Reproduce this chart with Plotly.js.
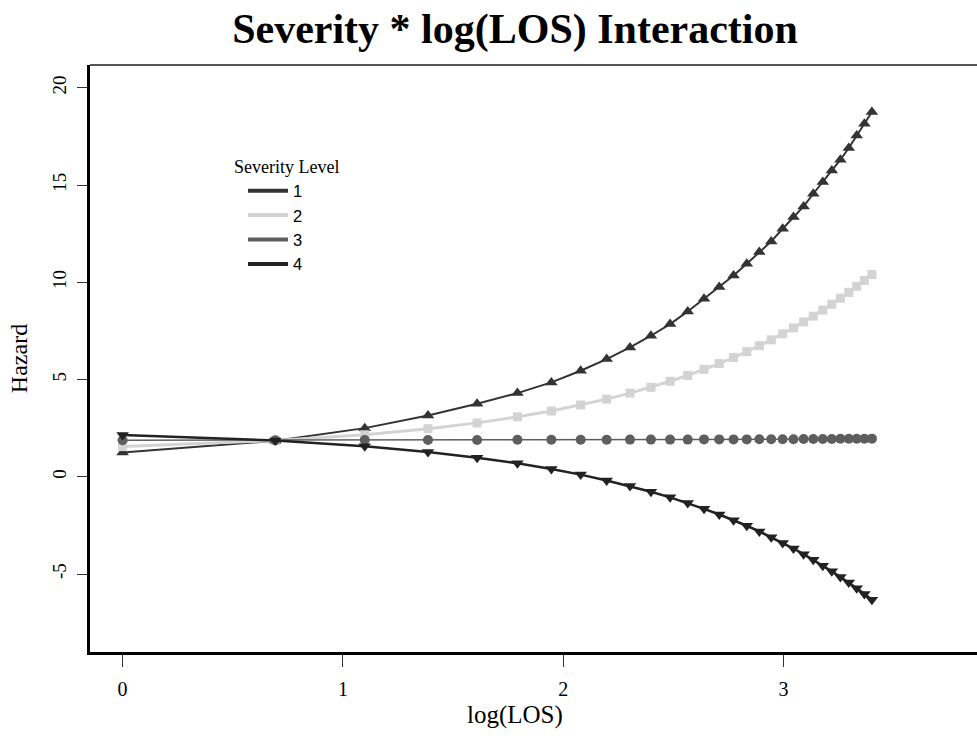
<!DOCTYPE html>
<html><head><meta charset="utf-8">
<script src="https://cdn.plot.ly/plotly-3.0.1.min.js"></script>
<style>html,body{margin:0;padding:0;background:#fff;overflow:hidden}</style>
</head><body><div id="chart" style="width:977px;height:744px"></div>
<script>
// log(LOS) for LOS = 1..30
const logLOS = [0, 0.693, 1.099, 1.386, 1.609, 1.792, 1.946, 2.079, 2.197, 2.303,
  2.398, 2.485, 2.565, 2.639, 2.708, 2.773, 2.833, 2.890, 2.944, 2.996,
  3.045, 3.091, 3.135, 3.178, 3.219, 3.258, 3.296, 3.332, 3.367, 3.401];
const severity1 = [1.25, 1.85, 2.5, 3.15, 3.75, 4.3, 4.85, 5.45, 6.05, 6.65,
  7.25, 7.85, 8.5, 9.15, 9.75, 10.35, 10.95, 11.55, 12.1, 12.75,
  13.35, 13.9, 14.55, 15.15, 15.75, 16.3, 16.9, 17.55, 18.15, 18.75];
const severity2 = [1.55, 1.86, 2.16, 2.47, 2.77, 3.08, 3.38, 3.69, 3.99, 4.30,
  4.60, 4.91, 5.21, 5.52, 5.82, 6.13, 6.43, 6.74, 7.04, 7.35,
  7.65, 7.96, 8.26, 8.57, 8.87, 9.18, 9.48, 9.79, 10.09, 10.40];
const severity3 = [1.88, 1.88, 1.89, 1.89, 1.89, 1.90, 1.90, 1.90, 1.90, 1.91,
  1.91, 1.91, 1.91, 1.92, 1.92, 1.92, 1.92, 1.93, 1.93, 1.93,
  1.93, 1.94, 1.94, 1.94, 1.94, 1.95, 1.95, 1.95, 1.95, 1.96];
const severity4 = [2.15, 1.86, 1.57, 1.27, 0.98, 0.69, 0.40, 0.11, -0.19, -0.48,
  -0.77, -1.06, -1.35, -1.65, -1.94, -2.23, -2.52, -2.81, -3.11, -3.40,
  -3.69, -3.98, -4.27, -4.57, -4.86, -5.15, -5.44, -5.73, -6.03, -6.32];
const seriesNames = ['1', '2', '3', '4'];
const xTickVals = [0, 1, 2, 3];
const xTickText = ['0', '1', '2', '3'];
const yTickVals = [-5, 0, 5, 10, 15, 20];
const yTickText = ['-5', '0', '5', '10', '15', '20'];

const seriesY = [severity1, severity2, severity3, severity4];
const colors = ['#333333', '#d3d3d3', '#5e5e5e', '#222222'];
const symbols = ['triangle-up', 'square', 'circle', 'triangle-down'];
const markerSize = [11, 9, 10, 11];
const lineW = [2, 3, 1.5, 2.5];

const traces = [];
seriesY.forEach((ys, i) => {
  traces.push({
    x: logLOS, y: ys, type: 'scatter', mode: 'lines+markers',
    line: {color: colors[i], width: lineW[i]},
    marker: {symbol: symbols[i], size: markerSize[i], color: colors[i]},
    showlegend: false, hoverinfo: 'skip'
  });
});
seriesY.forEach((ys, i) => {
  traces.push({
    x: [null], y: [null], type: 'scatter', mode: 'lines',
    name: seriesNames[i], line: {color: colors[i], width: 4},
    showlegend: true
  });
});

const serif = 'Liberation Serif, Times New Roman, serif';
const layout = {
  width: 977, height: 744,
  margin: {l: 90, r: 0, t: 65, b: 92, pad: 0},
  paper_bgcolor: '#fff', plot_bgcolor: '#fff',
  showlegend: true,
  title: {text: 'Severity * log(LOS) Interaction', font: {family: serif, size: 42, color: '#000', weight: 'bold'},
    xref: 'container', x: 515 / 977, xanchor: 'center', yref: 'container', y: 1 - 28 / 744, yanchor: 'middle'},
  xaxis: {
    range: [-0.148, 3.878], showgrid: false, zeroline: false,
    showline: true, linecolor: '#000', linewidth: 3,
    ticks: 'outside', ticklen: 12, tickwidth: 1, tickcolor: '#333',
    tickvals: xTickVals, ticktext: xTickText, ticklabelstandoff: 5,
    tickfont: {family: serif, size: 20, color: '#000'}
  },
  yaxis: {
    range: [-9.01, 21.17], showgrid: false, zeroline: false,
    showline: true, linecolor: '#000', linewidth: 3,
    ticks: 'outside', ticklen: 10, tickwidth: 1, tickcolor: '#333',
    tickvals: yTickVals, ticktext: yTickText, tickangle: -90, ticklabelstandoff: 3,
    tickfont: {family: serif, size: 19, color: '#000'},
    title: {text: 'Hazard', font: {family: serif, size: 24, color: '#000'}, standoff: 16}
  },
  legend: {
    x: (232 - 90) / 887, y: (652 - 150) / 587, xanchor: 'left', yanchor: 'top',
    bgcolor: 'rgba(0,0,0,0)', borderwidth: 0, indentation: 11, itemwidth: 40,
    title: {text: 'Severity Level', font: {family: serif, size: 18, color: '#000'}},
    font: {family: 'Liberation Sans, Arial, sans-serif', size: 16.5, color: '#000'},
    itemclick: false, itemdoubleclick: false
  },
  shapes: [{type: 'line', xref: 'paper', yref: 'paper', x0: 0, x1: 1, y0: 1, y1: 1,
    line: {color: '#555', width: 2}}],
  annotations: [{text: 'log(LOS)', xref: 'paper', yref: 'paper',
    x: (515 - 90) / 887, y: (652 - 715) / 587, xanchor: 'center', yanchor: 'middle',
    showarrow: false, font: {family: serif, size: 25, color: '#000'}}]
};
Plotly.newPlot('chart', traces, layout, {displayModeBar: false, staticPlot: true});
</script></body></html>
